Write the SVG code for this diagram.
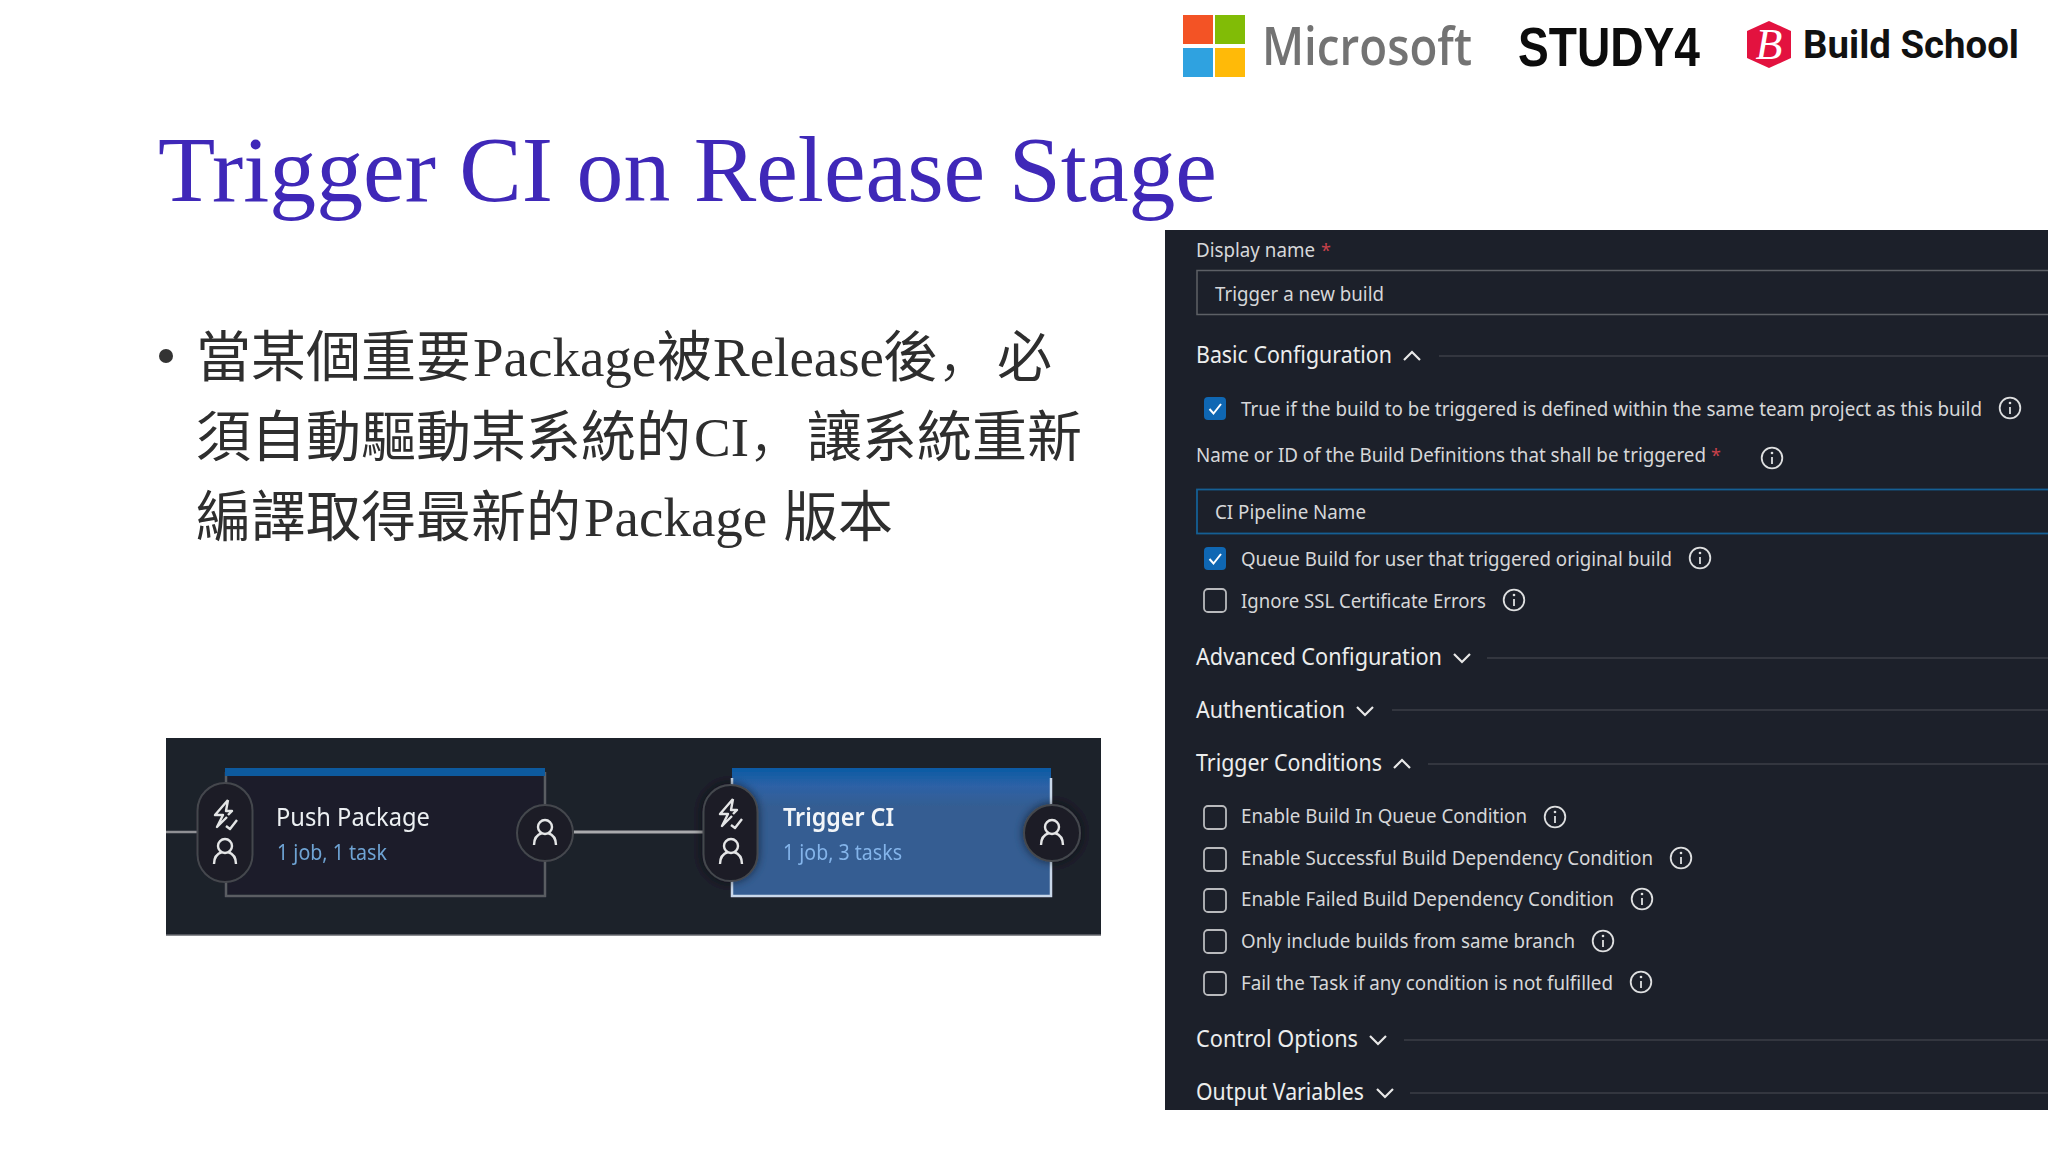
<svg xmlns="http://www.w3.org/2000/svg" width="2048" height="1152" viewBox="0 0 2048 1152">
<style>
text{font-family:"Noto Sans","Open Sans","Noto Sans CJK TC",sans-serif}
.t{font-size:19px;fill:#d6d7d9}
.h{font-size:23px;fill:#eceded}
.rule{stroke:#33363f;stroke-width:2;fill:none}
.cb{fill:none;stroke:#b9babd;stroke-width:1.8}
.cc{fill:#0f67b3}
.chk{fill:none;stroke:#fff;stroke-width:2}
.chev{fill:none;stroke:#e8e8e8;stroke-width:2.2}
.ic{fill:none;stroke:#e4e5e6;stroke-width:2.4}
.pill{fill:#1b1e26;stroke:#44474d;stroke-width:2}
.star{fill:#c8414a;font-size:18px}
.body{font-family:"Liberation Serif","Noto Sans CJK TC",serif;font-size:55px;fill:#2e2e2e}
.cjk{font-family:"Noto Sans CJK TC",sans-serif}
.cm{font-family:"Noto Sans CJK SC",sans-serif;font-weight:300}
</style>
<defs>
<g id="info"><circle r="10.3" fill="none" stroke="#dedfe0" stroke-width="1.8"/><path d="M0-1V6" stroke="#dedfe0" stroke-width="1.8"/><circle cy="-5" r="1.3" fill="#dedfe0"/></g>
<path id="up" class="chev" d="M-8 4L0-4L8 4"/>
<path id="down" class="chev" d="M-8-4L0 4L8-4"/>
<g id="box"><rect x="1204" y="0" width="22" height="23" rx="4" class="cb"/></g>
<g id="checked"><rect x="1204" y="0" width="22" height="23" rx="4" class="cc"/><path class="chk" d="M1209.500 12L1213.500 16.500L1221 7"/></g>
<g id="person"><circle cy="-6" r="7" class="ic"/><path class="ic" d="M-11 12C-11 4-6 1-3 0M11 12C11 4 6 1 3 0"/></g>
<g id="bolt"><path class="ic" d="M5-14L-8 1H0L-6 13L4 3M5-14L3-3H9L5 1M3 12L7 15L14 6" stroke-linejoin="round"/></g>
<filter id="soft" x="-5%" y="-5%" width="110%" height="110%"><feGaussianBlur stdDeviation="0.5"/></filter>
<filter id="glow" x="-40%" y="-40%" width="180%" height="180%"><feDropShadow dx="0" dy="0" stdDeviation="5" flood-color="#000" flood-opacity=".55"/></filter>
<linearGradient id="bl" x1="0" y1="0" x2="0" y2="1"><stop offset="0" stop-color="#0a5aa4"/><stop offset=".14" stop-color="#2d62a6"/><stop offset=".3" stop-color="#345d92"/><stop offset="1" stop-color="#345d92"/></linearGradient>
</defs>
<rect width="2048" height="1152" fill="#fff"/>

<g id="logo-microsoft">
<rect x="1183" y="15" width="30" height="29" fill="#f35325"/><rect x="1215" y="15" width="30" height="29" fill="#81bc06"/><rect x="1183" y="48" width="30" height="29" fill="#2fa2e0"/><rect x="1215" y="48" width="30" height="29" fill="#ffba08"/>
<text x="1262" y="65" font-size="52" font-weight="600" fill="#737373" textLength="210" lengthAdjust="spacingAndGlyphs" style="font-family:'Open Sans',sans-serif">Microsoft</text>
</g>
<g id="logo-study4"><text x="1518" y="66" font-size="55" font-weight="700" fill="#0c0c0c" textLength="182" lengthAdjust="spacingAndGlyphs" style="font-family:'Liberation Sans',sans-serif">STUDY4</text></g>
<g id="logo-buildschool">
<path d="M1769 21L1791 31V58L1769 68L1747 58V31Z" fill="#e3123f"/>
<text x="1769" y="59" text-anchor="middle" font-size="44" font-style="italic" fill="#fff" style="font-family:'Liberation Serif',serif">B</text>
<text x="1803" y="58" font-size="39" font-weight="700" fill="#111" textLength="216" lengthAdjust="spacingAndGlyphs" style="font-family:Roboto,sans-serif">Build School</text>
</g>

<text id="title" x="158" y="201" font-size="94" fill="#3f28b8" textLength="1059" lengthAdjust="spacingAndGlyphs" style="font-family:'Liberation Serif',serif">Trigger CI on Release Stage</text>

<g id="bullet">
<circle cx="166" cy="356" r="7" fill="#333"/>
<text class="body" y="376"><tspan class="cjk" x="196">當某個重要</tspan><tspan x="473">Package</tspan><tspan class="cjk" x="657">被</tspan><tspan x="713">Release</tspan><tspan class="cjk" x="883">後</tspan><tspan class="cm" x="938">，</tspan><tspan class="cjk" x="997">必</tspan></text>
<text class="body" y="456"><tspan class="cjk" x="196">須自動驅動某系統的</tspan><tspan x="694">CI</tspan><tspan class="cm" x="749">，</tspan><tspan class="cjk" x="807">讓系統重新</tspan></text>
<text class="body" y="536"><tspan class="cjk" x="196">編譯取得最新的</tspan><tspan x="584">Package</tspan><tspan class="cjk" x="783">版本</tspan></text>
</g>

<g id="pipeline" filter="url(#soft)">
<rect x="166" y="738" width="935" height="197" fill="#1c202a"/>
<rect x="166" y="934.500" width="935" height="1.500" fill="#8a8c90"/>
<g id="connectors"><path d="M166 832H198" stroke="#8f9094" stroke-width="2.500" fill="none"/><path d="M574 832H704" stroke="#a9aaad" stroke-width="3" fill="none"/></g>
<g id="node-push">
<path d="M226 772V896H545V772" fill="#1b1e2a" stroke="#5a5d62" stroke-width="2.500"/>
<rect x="225" y="768" width="320" height="8" fill="#0b5a9e"/>
<rect x="197.500" y="783" width="55" height="99" rx="27.500" class="pill"/>
<use href="#bolt" x="223" y="814"/><use href="#person" x="225" y="852"/>
<circle cx="545" cy="833" r="28" class="pill"/><use href="#person" x="545" y="833"/>
<text x="276" y="826" font-size="25" fill="#eceff2" textLength="154" lengthAdjust="spacingAndGlyphs">Push Package</text>
<text x="277" y="860" font-size="21" fill="#6fa3d4" textLength="110" lengthAdjust="spacingAndGlyphs">1 job, 1 task</text>
</g>
<g id="node-trigger">
<rect x="732" y="768" width="319" height="128" fill="url(#bl)"/>
<path d="M732 778V896H1051V778" fill="none" stroke="#c9d8ea" stroke-width="2.500"/>
<rect x="703.500" y="785" width="54" height="96" rx="27" class="pill" filter="url(#glow)"/>
<use href="#bolt" x="728" y="813"/><use href="#person" x="731" y="852"/>
<circle cx="1052" cy="833" r="28" class="pill" filter="url(#glow)"/><use href="#person" x="1052" y="833"/>
<text x="783" y="826" font-size="25" font-weight="600" fill="#f2f5f8" textLength="111" lengthAdjust="spacingAndGlyphs">Trigger CI</text>
<text x="783" y="860" font-size="21" fill="#84b4ea" textLength="119" lengthAdjust="spacingAndGlyphs">1 job, 3 tasks</text>
</g>
</g>

<g id="panel">
<rect x="1165" y="230" width="883" height="880" fill="#1c202a"/>
<text class="t" x="1196" y="257" textLength="119" lengthAdjust="spacingAndGlyphs">Display name</text><text class="star" x="1321" y="257">*</text>
<rect x="1197" y="270.500" width="870" height="44" fill="none" stroke="#5d6066" stroke-width="1.500"/>
<text class="t" x="1215" y="301" textLength="169" lengthAdjust="spacingAndGlyphs">Trigger a new build</text>

<text class="h" x="1196" y="363" textLength="196" lengthAdjust="spacingAndGlyphs">Basic Configuration</text><use href="#up" x="1412" y="356"/><path class="rule" d="M1439 356H2048"/>
<use href="#checked" y="397"/><text class="t" x="1241" y="416" textLength="741" lengthAdjust="spacingAndGlyphs">True if the build to be triggered is defined within the same team project as this build</text><use href="#info" x="2010" y="408"/>
<text class="t" x="1196" y="462" textLength="510" lengthAdjust="spacingAndGlyphs">Name or ID of the Build Definitions that shall be triggered</text><text class="star" x="1711" y="462">*</text><use href="#info" x="1772" y="458"/>
<rect x="1197" y="489.500" width="870" height="44" fill="none" stroke="#155f94" stroke-width="1.800"/>
<text class="t" x="1215" y="519" textLength="151" lengthAdjust="spacingAndGlyphs">CI Pipeline Name</text>
<use href="#checked" y="547"/><text class="t" x="1241" y="566" textLength="431" lengthAdjust="spacingAndGlyphs">Queue Build for user that triggered original build</text><use href="#info" x="1700" y="558"/>
<use href="#box" y="589"/><text class="t" x="1241" y="608" textLength="245" lengthAdjust="spacingAndGlyphs">Ignore SSL Certificate Errors</text><use href="#info" x="1514" y="600"/>

<text class="h" x="1196" y="665" textLength="246" lengthAdjust="spacingAndGlyphs">Advanced Configuration</text><use href="#down" x="1462" y="658"/><path class="rule" d="M1487 658H2048"/>
<text class="h" x="1196" y="718" textLength="149" lengthAdjust="spacingAndGlyphs">Authentication</text><use href="#down" x="1365" y="711"/><path class="rule" d="M1392 710H2048"/>
<text class="h" x="1196" y="771" textLength="186" lengthAdjust="spacingAndGlyphs">Trigger Conditions</text><use href="#up" x="1402" y="764"/><path class="rule" d="M1428 764H2048"/>

<use href="#box" y="806"/><text class="t" x="1241" y="823" textLength="286" lengthAdjust="spacingAndGlyphs">Enable Build In Queue Condition</text><use href="#info" x="1555" y="817"/>
<use href="#box" y="848"/><text class="t" x="1241" y="865" textLength="412" lengthAdjust="spacingAndGlyphs">Enable Successful Build Dependency Condition</text><use href="#info" x="1681" y="858"/>
<use href="#box" y="889"/><text class="t" x="1241" y="906" textLength="373" lengthAdjust="spacingAndGlyphs">Enable Failed Build Dependency Condition</text><use href="#info" x="1642" y="899"/>
<use href="#box" y="930"/><text class="t" x="1241" y="948" textLength="334" lengthAdjust="spacingAndGlyphs">Only include builds from same branch</text><use href="#info" x="1603" y="941"/>
<use href="#box" y="972"/><text class="t" x="1241" y="990" textLength="372" lengthAdjust="spacingAndGlyphs">Fail the Task if any condition is not fulfilled</text><use href="#info" x="1641" y="982"/>

<text class="h" x="1196" y="1047" textLength="162" lengthAdjust="spacingAndGlyphs">Control Options</text><use href="#down" x="1378" y="1040"/><path class="rule" d="M1404 1040H2048"/>
<text class="h" x="1196" y="1100" textLength="168" lengthAdjust="spacingAndGlyphs">Output Variables</text><use href="#down" x="1385" y="1093"/><path class="rule" d="M1410 1093H2048"/>
</g>
</svg>
